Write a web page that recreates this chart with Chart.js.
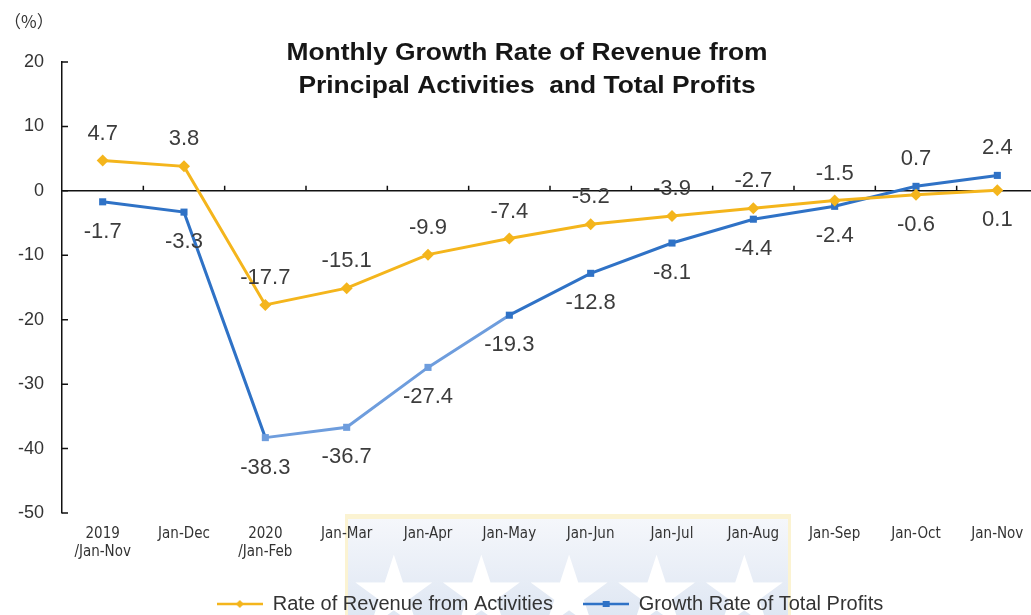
<!DOCTYPE html>
<html>
<head>
<meta charset="utf-8">
<title>Monthly Growth Rate of Revenue from Principal Activities and Total Profits</title>
<script src="https://cdn.jsdelivr.net/npm/chart.js@4"></script>
<style>
  html, body { margin: 0; padding: 0; background: #fff; overflow: hidden; }
  #wrap { position: relative; width: 1031px; height: 615px; overflow: hidden; }
  /* faint watermark behind the axis labels */
  #mark {
    position: absolute; left: 345px; top: 514px; width: 446px; height: 101px;
    background: linear-gradient(#f5f7fb, #dfe7f3);
    border-top: 5px solid #fbf3d2; border-left: 3px solid #fbf3d2; border-right: 3px solid #fbf3d2;
    color: #fff; font: 100px "DejaVu Sans", sans-serif; line-height: 100px;
    padding-top: 24px; box-sizing: border-box;
    text-align: center; letter-spacing: -2px; overflow: hidden; white-space: nowrap;
  }
  canvas { position: absolute; left: 0; top: 0; }
</style>
</head>
<body>
<div id="wrap">
  <div id="mark">★★★★★</div>
  <canvas id="myChart" width="1038" height="615"></canvas>
</div>
<script>
// values
const categories = [['2019', '/Jan-Nov'], 'Jan-Dec', ['2020', '/Jan-Feb'], 'Jan-Mar', 'Jan-Apr',
  'Jan-May', 'Jan-Jun', 'Jan-Jul', 'Jan-Aug', 'Jan-Sep', 'Jan-Oct', 'Jan-Nov'];
const revenueRate = [4.7, 3.8, -17.7, -15.1, -9.9, -7.4, -5.2, -3.9, -2.7, -1.5, -0.6, 0.1];
const profitRate = [-1.7, -3.3, -38.3, -36.7, -27.4, -19.3, -12.8, -8.1, -4.4, -2.4, 0.7, 2.4];
const yTicks = [20, 10, 0, -10, -20, -30, -40, -50];
const titleLines = ['Monthly Growth Rate of Revenue from', 'Principal Activities  and Total Profits'];
const seriesNames = ['Rate of Revenue from Activities', 'Growth Rate of Total Profits'];

const YELLOW = '#F4B51C';
const BLUE = '#2F72C6';
const BLUE_LIGHT = '#6E9DDD';
const FONT = '"Liberation Sans", Arial, sans-serif';

// little legend swatch: line with the series marker in the middle
function swatch(color, marker) {
  const c = document.createElement('canvas');
  c.width = 46; c.height = 12;
  const g = c.getContext('2d');
  g.strokeStyle = color; g.lineWidth = 2.5;
  g.beginPath(); g.moveTo(0, 6); g.lineTo(46, 6); g.stroke();
  g.fillStyle = color;
  if (marker === 'diamond') {
    g.beginPath(); g.moveTo(23, 2); g.lineTo(27, 6); g.lineTo(23, 10); g.lineTo(19, 6); g.closePath(); g.fill();
  } else {
    g.fillRect(20, 3, 7, 6);
  }
  return c;
}

const decor = {
  id: 'decor',
  beforeDraw(chart) {
    const ctx = chart.ctx;
    ctx.save();
    ctx.fillStyle = '#161616';
    ctx.font = 'bold 24px ' + FONT;
    ctx.textAlign = 'center';
    ctx.textBaseline = 'middle';
    titleLines.forEach((t, i) => {
      ctx.save();
      ctx.translate(527, 53 + i * 33);
      ctx.scale(1.1, 1);
      ctx.fillText(t, 0, 0);
      ctx.restore();
    });
    ctx.fillStyle = '#333';
    ctx.font = '17px "Noto Sans CJK SC", sans-serif';
    ctx.textAlign = 'left';
    ctx.fillText('（%）', 4, 22);
    ctx.restore();
  },
  afterDatasetsDraw(chart) {
    const ctx = chart.ctx;
    const xs = chart.scales.x, ys = chart.scales.y;
    const y0 = ys.getPixelForValue(0);
    const half = (xs.getPixelForValue(1) - xs.getPixelForValue(0)) / 2;
    ctx.save();
    ctx.strokeStyle = '#111';
    ctx.lineWidth = 1.5;
    ctx.beginPath();
    // ticks on the zero line between categories
    for (let i = 0; i < categories.length; i++) {
      const x = xs.getPixelForValue(i) + half;
      ctx.moveTo(x, y0); ctx.lineTo(x, y0 - 5);
    }
    // ticks on the y axis, pointing inwards
    yTicks.forEach(v => {
      const y = ys.getPixelForValue(v);
      ctx.moveTo(xs.left, y); ctx.lineTo(xs.left + 6, y);
    });
    ctx.stroke();

    // value labels: higher series above its point, lower one below
    ctx.font = '22px ' + FONT;
    ctx.fillStyle = '#3c3c3c';
    ctx.textAlign = 'center';
    ctx.textBaseline = 'middle';
    chart.data.datasets.forEach((ds, di) => {
      const other = chart.data.datasets[1 - di].data;
      chart.getDatasetMeta(di).data.forEach((pt, i) => {
        const above = ds.data[i] >= other[i];
        ctx.fillText(ds.data[i].toFixed(1), pt.x, pt.y + (above ? -27 : 30));
      });
    });
    ctx.restore();
  }
};

new Chart(document.getElementById('myChart'), {
  type: 'line',
  data: {
    labels: categories,
    datasets: [{
      label: seriesNames[0],
      data: revenueRate,
      borderColor: YELLOW,
      backgroundColor: YELLOW,
      borderWidth: 3,
      pointStyle: 'rectRot',
      pointRadius: 6,
      pointBorderWidth: 0,
      tension: 0
    }, {
      label: seriesNames[1],
      data: profitRate,
      borderColor: BLUE,
      backgroundColor: profitRate.map((v, i) => (i >= 2 && i <= 4) ? BLUE_LIGHT : BLUE),
      borderWidth: 3,
      pointStyle: 'rect',
      pointRadius: 5,
      pointBorderWidth: 0,
      tension: 0,
      segment: {
        borderColor: c => (c.p0DataIndex >= 2 && c.p0DataIndex <= 4) ? BLUE_LIGHT : BLUE
      }
    }]
  },
  options: {
    responsive: false,
    animation: false,
    layout: { autoPadding: false, padding: { top: 62, right: 0, left: 0, bottom: -9 } },
    plugins: {
      title: { display: false },
      tooltip: { enabled: false },
      legend: {
        position: 'bottom',
        fullSize: false,
        labels: {
          usePointStyle: true,
          pointStyleWidth: 46,
          padding: 2,
          color: '#333',
          font: { family: FONT, size: 20 },
          // trailing spaces open up the gap between the two entries
          generateLabels: chart => [
            { text: seriesNames[0] + '     ', pointStyle: swatch(YELLOW, 'diamond'), fillStyle: YELLOW, strokeStyle: YELLOW, lineWidth: 0, datasetIndex: 0, fontColor: '#333' },
            { text: seriesNames[1], pointStyle: swatch(BLUE, 'square'), fillStyle: BLUE, strokeStyle: BLUE, lineWidth: 0, datasetIndex: 1, fontColor: '#333' }
          ]
        }
      }
    },
    scales: {
      x: {
        offset: true,
        grid: { display: false },
        border: { display: false },
        ticks: {
          color: '#333',
          maxRotation: 0,
          autoSkip: false,
          padding: 4,
          font: { family: '"Liberation Sans Narrow", "DejaVu Sans Condensed", sans-serif', size: 15, lineHeight: 1.2 }
        },
        afterFit: s => { s.height = 79; }
      },
      y: {
        min: -50,
        max: 20,
        afterBuildTicks: s => { s.ticks = yTicks.map(v => ({ value: v })); },
        grid: {
          drawTicks: false,
          color: c => c.tick && c.tick.value === 0 ? '#111' : 'rgba(0,0,0,0)',
          lineWidth: 1.5
        },
        border: { display: true, color: '#111', width: 1.5 },
        ticks: {
          color: '#333',
          padding: 18,
          font: { family: FONT, size: 18 }
        },
        afterFit: s => { s.width = 62; }
      }
    }
  },
  plugins: [decor]
});
</script>
</body>
</html>
